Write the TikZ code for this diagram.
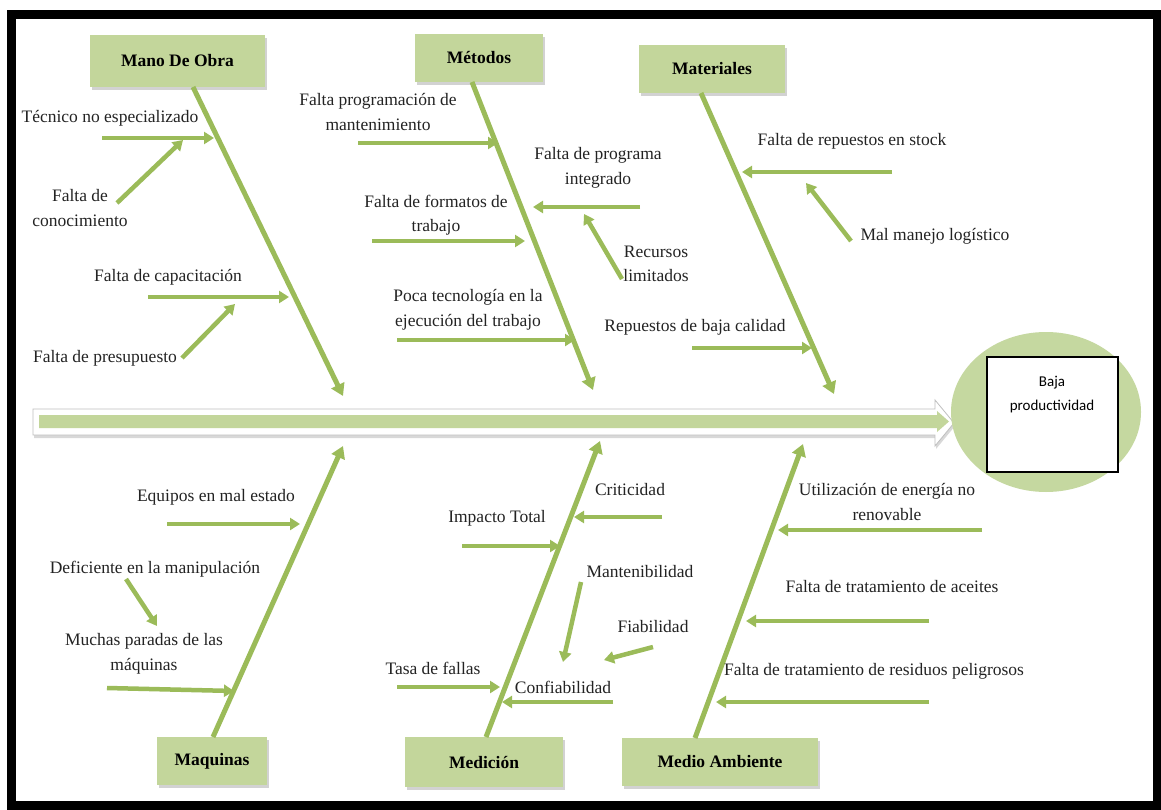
\documentclass[tikz,border=0pt]{standalone}
\usepackage{fontspec}
\setmainfont{Liberation Serif}
\newfontfamily\calib{Carlito}
\usetikzlibrary{arrows.meta,shadows,shapes.geometric}
\definecolor{boxgreen}{RGB}{195,214,155}
\definecolor{arrgreen}{RGB}{155,187,89}
\definecolor{headgreen}{RGB}{197,216,160}
\definecolor{txt}{RGB}{35,35,35}
\begin{document}
\begin{tikzpicture}[x=1pt,y=-1pt,
  cat/.style={fill=boxgreen, draw=none, drop shadow={shadow xshift=2pt,shadow yshift=-3pt,opacity=0.35}, font=\fontsize{17.5}{21}\selectfont\bfseries, text=black, inner sep=0pt},
  lbl/.style={font=\fontsize{17.5}{24.5}\selectfont, align=center, text=txt, inner sep=0pt},
  bone/.style={draw=arrgreen, line width=5pt, -{Triangle[length=12pt,width=14pt]}},
  sub/.style={draw=arrgreen, line width=4.5pt, -{Triangle[length=10pt,width=12pt]}},
]
\useasboundingbox (0,0) rectangle (1161,810);
\fill[white] (0,0) rectangle (1161,810);
\draw[line width=9pt] (11,15) rectangle (1157,805.5);

% spine
\filldraw[fill=white, draw=black!25, line width=0.8pt, drop shadow={shadow xshift=1pt,shadow yshift=-3pt,opacity=0.3}]
  (33,409) -- (935,409) -- (935,400) -- (954,423) -- (935,446) -- (935,435) -- (33,435) -- cycle;
\fill[boxgreen] (39,415) -- (937,415) -- (937,411) -- (949,421.5) -- (937,432) -- (937,428) -- (39,428) -- cycle;

% head
\node[ellipse, fill=headgreen, draw=none, minimum width=190pt, minimum height=160pt, inner sep=0pt] (head) at (1046,412) {};
\node[draw=black, fill=white, line width=1.2pt, minimum width=131pt, minimum height=115pt, inner sep=0pt] (effbox) at (1052.5,414.5) {};
\node[font=\calib\fontsize{15}{24}\selectfont, align=center, inner sep=0pt] (efftext) at (1052,395) {Baja\\productividad};

% category boxes
\node[cat, minimum width=175pt, minimum height=52pt] (mano) at (177.5,61) {Mano De Obra};
\node[cat, minimum width=128pt, minimum height=48pt] (metodos) at (479,58) {Métodos};
\node[cat, minimum width=146pt, minimum height=48pt] (materiales) at (712,69) {Materiales};
\node[cat, minimum width=110pt, minimum height=48pt] (maquinas) at (212,761) {Maquinas};
\node[cat, minimum width=158pt, minimum height=50pt] (medicion) at (484,762) {Medición};
\node[cat, minimum width=196pt, minimum height=48pt] (medio) at (720,762) {Medio Ambiente};

% bone coordinates
\coordinate (manoS) at (193,87);   \coordinate (manoT) at (343,396);
\coordinate (metS) at (472,82);    \coordinate (metT) at (593,390);
\coordinate (matS) at (701,93);    \coordinate (matT) at (834,394);
\coordinate (maqS) at (213,737);   \coordinate (maqT) at (343,446);
\coordinate (medS) at (486,737);   \coordinate (medT) at (600,441);
\coordinate (ambS) at (695,738);   \coordinate (ambT) at (803,444);
\draw[bone] (manoS) -- (manoT);
\draw[bone] (metS) -- (metT);
\draw[bone] (matS) -- (matT);
\draw[bone] (maqS) -- (maqT);
\draw[bone] (medS) -- (medT);
\draw[bone] (ambS) -- (ambT);

% Mano De Obra
\node[lbl] (l1) at (110,118) {Técnico no especializado};
\node[lbl] (l2) at (80,208) {Falta de\\conocimiento};
\node[lbl] (l3) at (168,277) {Falta de capacitación};
\node[lbl] (l4) at (105,358) {Falta de presupuesto};
\coordinate (a1s) at (102,138); \coordinate (a1e) at (214,138);
\coordinate (a2s) at (117,203); \coordinate (a2e) at (183,140);
\coordinate (a3s) at (148,297); \coordinate (a3e) at (289,297);
\coordinate (a4s) at (182,358); \coordinate (a4e) at (235,304);
\draw[sub] (a1s) -- (a1e);
\draw[sub] (a2s) -- (a2e);
\draw[sub] (a3s) -- (a3e);
\draw[sub] (a4s) -- (a4e);

% Metodos
\node[lbl] (m1) at (378,112) {Falta programación de\\mantenimiento};
\node[lbl] (m2) at (598,168) {Falta de programa\\integrado};
\node[lbl] (m3) at (436,215) {Falta de formatos de\\trabajo};
\node[lbl] (m4) at (656,264) {Recursos\\limitados};
\node[lbl] (m5) at (468,310) {Poca tecnología en la\\ejecución del trabajo};
\coordinate (b1s) at (358,143); \coordinate (b1e) at (498,143);
\coordinate (b2s) at (640,207); \coordinate (b2e) at (533,207);
\coordinate (b3s) at (372,241); \coordinate (b3e) at (525,241);
\coordinate (b4s) at (622,279); \coordinate (b4e) at (584,214);
\coordinate (b5s) at (397,340); \coordinate (b5e) at (575,340);
\draw[sub] (b1s) -- (b1e);
\draw[sub] (b2s) -- (b2e);
\draw[sub] (b3s) -- (b3e);
\draw[sub] (b4s) -- (b4e);
\draw[sub] (b5s) -- (b5e);

% Materiales
\node[lbl] (t1) at (852,141) {Falta de repuestos en stock};
\node[lbl] (t2) at (935,236) {Mal manejo logístico};
\node[lbl] (t3) at (695,327) {Repuestos de baja calidad};
\coordinate (c1s) at (892,172); \coordinate (c1e) at (742,172);
\coordinate (c2s) at (851,241); \coordinate (c2e) at (806,183);
\coordinate (c3s) at (692,348); \coordinate (c3e) at (812,348);
\draw[sub] (c1s) -- (c1e);
\draw[sub] (c2s) -- (c2e);
\draw[sub] (c3s) -- (c3e);

% Maquinas
\node[lbl] (q1) at (216,497) {Equipos en mal estado};
\node[lbl] (q2) at (155,569) {Deficiente en la manipulación};
\node[lbl] (q3) at (144,654) {Muchas paradas de las\\máquinas};
\coordinate (d1s) at (167,524); \coordinate (d1e) at (300,524);
\coordinate (d2s) at (126,579); \coordinate (d2e) at (157,626);
\coordinate (d3s) at (107,688); \coordinate (d3e) at (234,691);
\draw[sub] (d1s) -- (d1e);
\draw[sub] (d2s) -- (d2e);
\draw[sub] (d3s) -- (d3e);

% Medicion
\node[lbl] (e1) at (630,490) {Criticidad};
\node[lbl] (e2) at (497,518) {Impacto Total};
\node[lbl] (e3) at (640,572) {Mantenibilidad};
\node[lbl] (e4) at (653,627) {Fiabilidad};
\node[lbl] (e5) at (433,668) {Tasa de fallas};
\node[lbl] (e6) at (563,687) {Confiabilidad};
\coordinate (f1s) at (662,517); \coordinate (f1e) at (574,517);
\coordinate (f2s) at (462,546); \coordinate (f2e) at (560,546);
\coordinate (f3s) at (581,582); \coordinate (f3e) at (563,662);
\coordinate (f4s) at (653,647); \coordinate (f4e) at (604,660);
\coordinate (f5s) at (397,687); \coordinate (f5e) at (500,687);
\coordinate (f6s) at (613,702); \coordinate (f6e) at (502,702);
\draw[sub] (f1s) -- (f1e);
\draw[sub] (f2s) -- (f2e);
\draw[sub] (f3s) -- (f3e);
\draw[sub] (f4s) -- (f4e);
\draw[sub] (f5s) -- (f5e);
\draw[sub] (f6s) -- (f6e);

% Medio Ambiente
\node[lbl] (g1) at (887,502) {Utilización de energía no\\renovable};
\node[lbl] (g2) at (892,587) {Falta de tratamiento de aceites};
\node[lbl] (g3) at (874,671) {Falta de tratamiento de residuos peligrosos};
\coordinate (h1s) at (982,530); \coordinate (h1e) at (778,530);
\coordinate (h2s) at (929,621); \coordinate (h2e) at (746,621);
\coordinate (h3s) at (929,702); \coordinate (h3e) at (716,702);
\draw[sub] (h1s) -- (h1e);
\draw[sub] (h2s) -- (h2e);
\draw[sub] (h3s) -- (h3e);
\end{tikzpicture}
\end{document}
